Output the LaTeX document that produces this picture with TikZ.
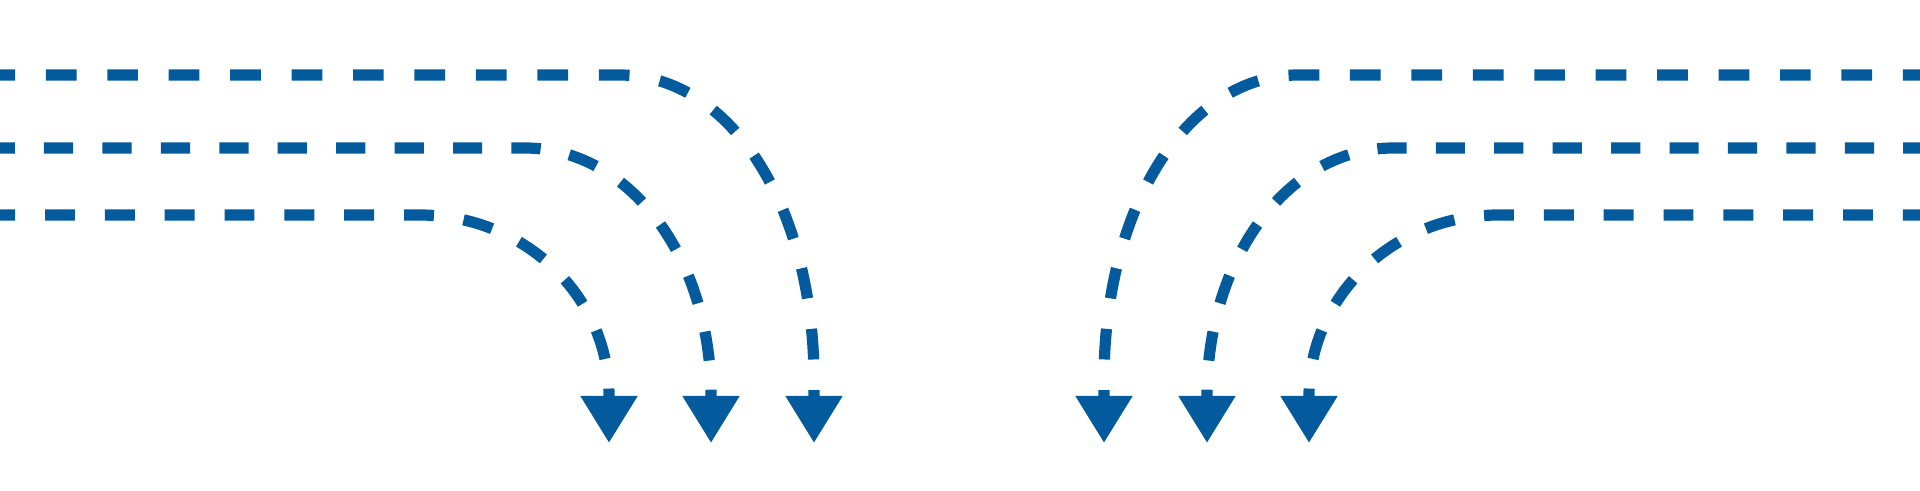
\documentclass[tikz,border=0pt]{standalone}
\usetikzlibrary{arrows.meta}
\definecolor{bleu}{RGB}{3,91,157}
\begin{document}
\begin{tikzpicture}[x=0.01cm,y=-0.01cm]
		% Styles (MODIFIABLES)
		\tikzstyle{trajet}=[bleu,line width=1.12mm,-{Triangle[length=4.7mm,width=5.4mm]}]
		\tikzstyle{tiretsHaut}=[dash pattern=on 3.07mm off 3.07mm]
		\tikzstyle{tiretsMilieu}=[dash pattern=on 2.92mm off 2.92mm]
		\tikzstyle{tiretsBas}=[dash pattern=on 2.99mm off 2.99mm]
		% Cadre
		\useasboundingbox (0,0) rectangle (1920,490);
		\clip (0,0) rectangle (1920,490);
		% Dimensions (MODIFIABLES)
		\def\NiveauHaut{75}
		\def\NiveauMilieu{148}
		\def\NiveauBas{215}
		\def\NiveauPointe{443}
		% Coordonnées à gauche
		\coordinate (GHd) at (-15.6,\NiveauHaut);
		\coordinate (GHc) at (620,\NiveauHaut);
		\coordinate (GHf) at (814,380);
		\coordinate (GHp) at (814,\NiveauPointe);
		\coordinate (GMd) at (-14.45,\NiveauMilieu);
		\coordinate (GMc) at (525,\NiveauMilieu);
		\coordinate (GMf) at (711,396);
		\coordinate (GMp) at (711,\NiveauPointe);
		\coordinate (GBd) at (-14.8,\NiveauBas);
		\coordinate (GBc) at (420,\NiveauBas);
		\coordinate (GBf) at (609,396);
		\coordinate (GBp) at (609,\NiveauPointe);
		% Coordonnées à droite (symétrie d'axe x=959)
		\coordinate (DHd) at (1933.6,\NiveauHaut);
		\coordinate (DHc) at (1298,\NiveauHaut);
		\coordinate (DHf) at (1104,380);
		\coordinate (DHp) at (1104,\NiveauPointe);
		\coordinate (DMd) at (1932.45,\NiveauMilieu);
		\coordinate (DMc) at (1393,\NiveauMilieu);
		\coordinate (DMf) at (1207,396);
		\coordinate (DMp) at (1207,\NiveauPointe);
		\coordinate (DBd) at (1932.8,\NiveauBas);
		\coordinate (DBc) at (1498,\NiveauBas);
		\coordinate (DBf) at (1309,396);
		\coordinate (DBp) at (1309,\NiveauPointe);
		% Trajets à gauche
		\draw[trajet,tiretsHaut] (GHd)--(GHc) .. controls +(110.6,0) and +(0,-173.8) .. (GHf)--(GHp);
		\draw[trajet,tiretsMilieu] (GMd)--(GMc) .. controls +(104.2,0) and +(0,-138.9) .. (GMf)--(GMp);
		\draw[trajet,tiretsBas] (GBd)--(GBc) .. controls +(104.3,0) and +(0,-100) .. (GBf)--(GBp);
		% Trajets à droite
		\draw[trajet,tiretsHaut] (DHd)--(DHc) .. controls +(-110.6,0) and +(0,-173.8) .. (DHf)--(DHp);
		\draw[trajet,tiretsMilieu] (DMd)--(DMc) .. controls +(-104.2,0) and +(0,-138.9) .. (DMf)--(DMp);
		\draw[trajet,tiretsBas] (DBd)--(DBc) .. controls +(-104.3,0) and +(0,-100) .. (DBf)--(DBp);
	\end{tikzpicture}
\end{document}
